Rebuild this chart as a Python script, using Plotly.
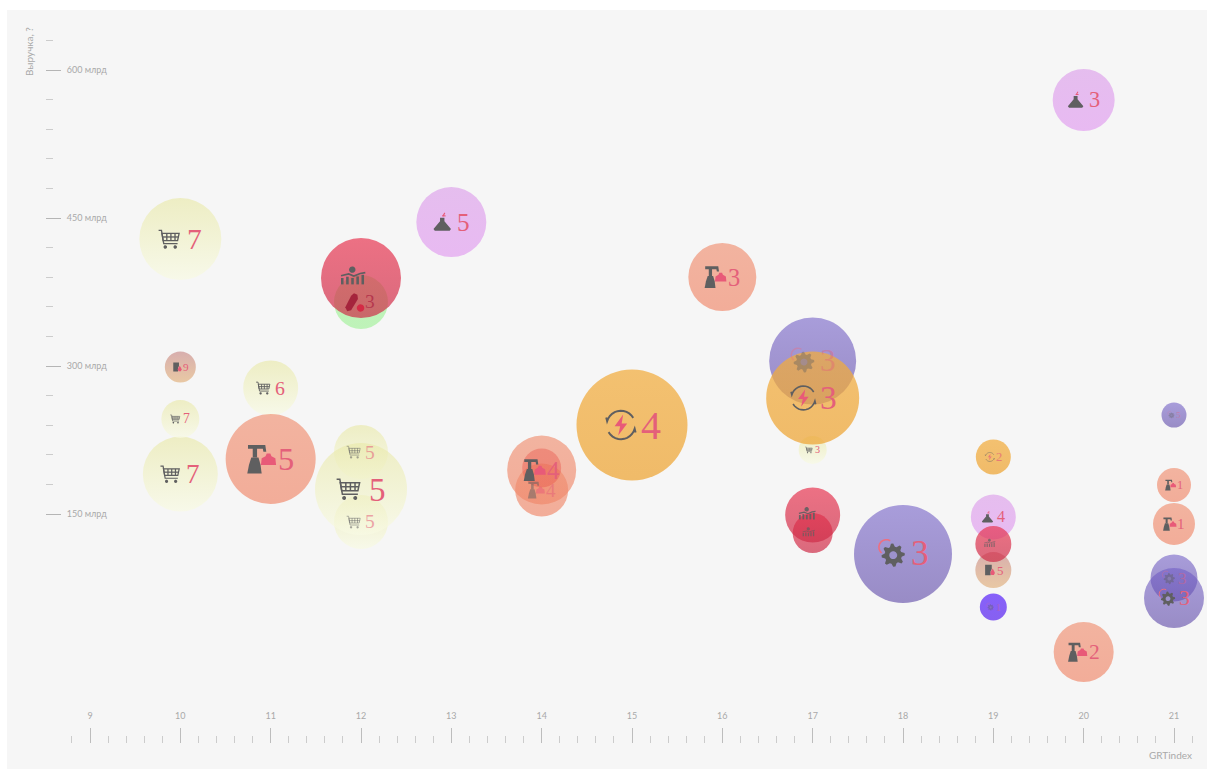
import numpy as np
import plotly.graph_objects as go

# ---------- data ----------
grt = [12, 12, 12, 10, 10, 10, 11, 17,
       11, 14, 14, 14, 16, 20, 21, 21,
       10, 19, 13, 20, 19,
       12, 12, 17, 17, 19,
       18, 17, 21, 21, 21, 19,
       17, 15, 19]
revenue = [212.8, 141.9, 175.3, 428.7, 190.5, 246.3, 277.7, 214.9,
           205.7, 174.3, 194.6, 196.6, 390.2, 10.1, 179.4, 139.9,
           299.0, 93.2, 445.9, 569.6, 147.0,
           364.9, 389.2, 130.7, 149.0, 119.6,
           109.5, 305.1, 250.3, 85.1, 64.9, 55.7,
           267.6, 240.2, 207.8]
bubble = [54, 54, 92, 82, 75, 38, 55, 28,
          90, 53, 69, 39, 68, 60, 34, 42,
          31, 36, 70, 62, 45,
          54, 80, 40, 55, 36,
          98, 87, 25, 47, 60, 27,
          93, 111, 35]
sector = ["retail", "retail", "retail", "retail", "retail", "retail", "retail", "retail",
          "industry", "industry", "industry", "tint", "industry", "industry", "industry", "industry",
          "oil", "oil", "chem", "chem", "chem",
          "pharma", "finance", "finance", "finance", "finance",
          "machine", "machine", "machine", "machine", "machine", "violet",
          "energy", "energy", "energy"]
count = [5, 5, 5, 7, 7, 7, 6, 3,
         5, 4, 4, None, 3, 2, 1, 1,
         9, 5, 5, 3, 4,
         3, None, None, None, None,
         3, 3, 5, 3, 3, 1,
         3, 4, 2]
icon_name = ["cart", "cart", "cart", "cart", "cart", "cart", "cart", "cart",
             "factory", "factory", "factory", None, "factory", "factory", "factory", "factory",
             "oil", "oil", "flask", "flask", "flask",
             "pill", "chart", "chart", "chart", "chart",
             "gear", "gear", "gear", "gear", "gear", "gear",
             "bolt", "bolt", "bolt"]
veil = [0.55, 0.55, 1, 1, 1, 1, 1, 1,
        1, 0.5, 1, 1, 1, 1, 1, 1,
        1, 1, 1, 1, 1,
        1, 1, 0.7, 0.9, 0.7,
        1, 0.4, 0.4, 0.45, 1, 0.4,
        1, 1, 0.7]

x_major = list(range(9, 22))
x_minor = [round(8.8 + 0.2 * i, 1) for i in range(63) if (i - 1) % 5 != 0]
y_major = [150, 300, 450, 600]
y_major_text = ["150 млрд", "300 млрд", "450 млрд", "600 млрд"]
y_minor = [180, 210, 240, 270, 330, 360, 390, 420, 480, 510, 540, 570, 630]

# ---------- styles ----------
FILL = {  # top colour, bottom colour
    "retail": ("rgba(233,233,170,0.66)", "rgba(248,250,228,0.7)"),
    "industry": ("rgba(240,145,115,0.66)", "rgba(240,135,105,0.66)"),
    "tint": ("rgba(232,80,70,0.4)", "rgba(232,80,70,0.4)"),
    "oil": ("rgba(205,150,150,0.75)", "rgba(225,175,120,0.65)"),
    "chem": ("rgba(222,165,235,0.7)", "rgba(226,160,240,0.7)"),
    "pharma": ("rgba(150,240,140,0.58)", "rgba(150,240,140,0.58)"),
    "finance": ("rgba(232,50,78,0.68)", "rgba(205,45,72,0.7)"),
    "machine": ("rgba(112,92,198,0.58)", "rgba(100,80,170,0.64)"),
    "violet": ("rgba(115,70,250,0.85)", "rgba(115,70,240,0.85)"),
    "energy": ("rgba(242,172,60,0.72)", "rgba(238,168,60,0.76)"),
}
ICON_DX = {"cart": -0.14, "factory": -0.10, "oil": -0.10, "flask": -0.13,
           "pill": -0.12, "chart": -0.09, "gear": -0.10, "bolt": -0.10}
ICON_SCALE = {"cart": 0.125, "factory": 0.16, "oil": 0.16, "flask": 0.125,
              "pill": 0.18, "chart": 0.16, "gear": 0.125, "bolt": 0.135}
NUM_COLOR = {"pharma": "#b5384e"}
NUM_DX = 0.175
INK = "#5f5f60"
PINK = "#e85a78"


def circ(cx, cy, r, a0=0, a1=360, n=24):
    t = np.radians(np.linspace(a0, a1, n))
    return list(zip(cx + r * np.cos(t), cy + r * np.sin(t)))


def gear_pts(cx, cy, r, teeth=8):
    pts = []
    for i in range(teeth * 4):
        a = 2 * np.pi * i / (teeth * 4)
        rr = r if i % 4 in (0, 1) else r * 0.74
        pts.append((cx + rr * np.cos(a), cy + rr * np.sin(a)))
    return pts


# each part: (points, colour, filled, closed)
ICONS = {
    "cart": [
        ([(-1, 0.85), (-0.72, 0.85), (-0.5, -0.45), (0.85, -0.45)], INK, False, False),
        ([(-0.68, 0.55), (1, 0.55), (0.85, -0.15), (-0.56, -0.15)], INK, False, True),
        ([(-0.2, 0.55), (-0.2, -0.15)], INK, False, False),
        ([(0.2, 0.55), (0.2, -0.15)], INK, False, False),
        ([(0.6, 0.55), (0.6, -0.15)], INK, False, False),
        ([(-0.62, 0.2), (0.93, 0.2)], INK, False, False),
        (circ(-0.35, -0.78, 0.17), INK, True, True),
        (circ(0.62, -0.78, 0.17), INK, True, True),
    ],
    "factory": [
        ([(-1, -1), (0.0, -1), (-0.08, -0.4), (-0.22, 0.1), (-0.72, 0.1), (-0.88, -0.4)], INK, True, True),
        ([(-0.62, 0.1), (-0.62, 0.72), (-0.95, 0.72), (-0.95, 0.98), (0.25, 0.98), (0.32, 0.5),
          (0.12, 0.5), (0.08, 0.72), (-0.32, 0.72), (-0.32, 0.1)], INK, True, True),
        ([(-0.05, -0.42), (1, -0.42), (0.95, 0.05), (0.68, 0.2), (0.6, 0.38), (0.35, 0.38),
          (0.27, 0.2), (0.0, 0.05)], PINK, True, True),
    ],
    "oil": [
        ([(-0.8, -0.9), (0.15, -0.9), (0.15, -0.2), (0.35, 0.2), (0.35, 0.9), (-0.8, 0.9)], INK, True, True),
        ([(0.5, 0.25), (0.75, -0.15), (0.9, -0.5), (0.72, -0.85), (0.28, -0.85), (0.1, -0.5), (0.25, -0.15)],
         PINK, True, True),
    ],
    "flask": [
        ([(-0.25, 0.5), (0.25, 0.5), (0.25, 0.1), (1.0, -0.8), (0.85, -1), (-0.85, -1), (-1.0, -0.8), (-0.25, 0.1)],
         INK, True, True),
        ([(0.05, 0.65), (0.3, 1.05)], PINK, False, False),
        ([(0.02, 0.72), (0.38, 0.7)], PINK, False, False),
    ],
    "pill": [
        ([(-0.95, -0.55), (-0.75, -0.95), (-0.35, -0.85), (0.35, 0.3), (0.3, 0.75), (-0.05, 0.9), (-0.35, 0.65)],
         "#a5243c", True, True),
        (circ(0.62, -0.62, 0.38), "#d42a45", True, True),
    ],
    "chart": [
        ([(-1, -0.5), (-0.8, -0.5), (-0.8, 0.0), (-1, 0.0)], INK, True, True),
        ([(-0.6, -0.5), (-0.4, -0.5), (-0.4, 0.1), (-0.6, 0.1)], INK, True, True),
        ([(-0.2, -0.5), (0, -0.5), (0, 0.0), (-0.2, 0.0)], INK, True, True),
        ([(0.2, -0.5), (0.4, -0.5), (0.4, 0.12), (0.2, 0.12)], INK, True, True),
        ([(0.6, -0.5), (0.8, -0.5), (0.8, 0.25), (0.6, 0.25)], INK, True, True),
        ([(-1, 0.18), (-0.4, 0.32), (0, 0.15), (0.5, 0.35), (0.9, 0.42)], INK, False, False),
        (circ(-0.12, 0.65, 0.25), INK, True, True),
    ],
    "gear": [
        (gear_pts(0, -0.1, 0.95), INK, True, True),
        (circ(0, -0.1, 0.32), "#9d92cc", True, True),
        (circ(-0.55, 0.55, 0.62, 60, 230, 10), "#ee6f80", False, False),
    ],
    "bolt": [
        (circ(0, 0, 0.95, 30, 165, 12) + [(-0.98, 0.5)], INK, False, False),
        (circ(0, 0, 0.95, 210, 345, 12) + [(0.98, -0.5)], INK, False, False),
        ([(0.15, 0.7), (-0.42, -0.08), (-0.05, -0.08), (-0.18, -0.7), (0.42, 0.1), (0.05, 0.1)], PINK, True, True),
    ],
}


def to_path(pts, s, dx, closed):
    segs = [f"{'M' if i == 0 else 'L'}{px * s + dx:.2f},{py * s:.2f}" for i, (px, py) in enumerate(pts)]
    return " ".join(segs) + (" Z" if closed else "")


fig = go.Figure()

fig.add_trace(go.Scatter(
    x=grt, y=revenue, mode="markers", hoverinfo="skip",
    marker=dict(
        size=bubble, sizemode="diameter", opacity=1,
        color=[FILL[s][0] for s in sector],
        gradient=dict(type="vertical", color=[FILL[s][1] for s in sector]),
        line=dict(width=0),
    ),
))

shapes = []
annotations = []
for gx, rv, d, name, n, a, sec in zip(grt, revenue, bubble, icon_name, count, veil, sector):
    if name:
        s = ICON_SCALE[name] * d
        dx = ICON_DX[name] * d
        for pts, col, filled, closed in ICONS[name]:
            shapes.append(dict(
                type="path", xsizemode="pixel", ysizemode="pixel",
                xanchor=gx, yanchor=rv, xref="x", yref="y",
                path=to_path(pts, s, dx, closed), opacity=a, layer="above",
                fillcolor=col if filled else "rgba(0,0,0,0)",
                line=dict(color=col, width=0 if filled else max(0.5, s * 0.13)),
            ))
    if n is not None:
        annotations.append(dict(
            x=gx, y=rv, xref="x", yref="y", text=str(n), showarrow=False,
            xshift=NUM_DX * d, yshift=0, opacity=a,
            font=dict(family="Liberation Serif", size=max(8, 0.36 * d),
                      color=NUM_COLOR.get(sec, "#e4607a")),
        ))

annotations += [
    dict(xref="paper", yref="paper", x=(29 - 7) / 1200, y=(769 - 52) / 759, text="Выручка, ?",
         xanchor="center", yanchor="middle",
         textangle=-90, showarrow=False, font=dict(family="Lato", size=10, color="#a9a9a9")),
    dict(xref="paper", yref="paper", x=(1194 - 7) / 1200, y=(769 - 755) / 759, text="GRTindex",
         xanchor="right", yanchor="middle", showarrow=False,
         font=dict(family="Lato", size=10, color="#a9a9a9")),
]

fig.update_layout(
    width=1208, height=771, showlegend=False,
    margin=dict(l=7, r=1, t=10, b=2, pad=0),
    paper_bgcolor="white", plot_bgcolor="#f6f6f6",
    shapes=shapes, annotations=annotations,
    xaxis=dict(
        range=[9 - 83 / 90.33, 21 + 33 / 90.33], side="top", anchor="free",
        position=(769 - 743) / 759, showgrid=False, zeroline=False, showline=False,
        tickmode="array", tickvals=x_major, ticktext=[str(v) for v in x_major],
        ticks="outside", ticklen=15, tickwidth=1, tickcolor="#bdbdbd",
        ticklabelstandoff=5, tickfont=dict(family="Lato", size=9, color="#a9a9a9"),
        minor=dict(tickmode="array", tickvals=x_minor, ticks="outside", ticklen=7,
                   tickwidth=1, tickcolor="#cccccc", showgrid=False),
    ),
    yaxis=dict(
        range=[600 - 699 / 0.98667, 600 + 60 / 0.98667], side="right", anchor="free",
        position=(45 - 7) / 1200, showgrid=False, zeroline=False, showline=False,
        tickmode="array", tickvals=y_major, ticktext=y_major_text,
        ticks="outside", ticklen=15, tickwidth=1, tickcolor="#b5b5b5",
        ticklabelstandoff=4, tickfont=dict(family="Lato", size=9, color="#a9a9a9"),
        minor=dict(tickmode="array", tickvals=y_minor, ticks="outside", ticklen=7,
                   tickwidth=1, tickcolor="#cccccc", showgrid=False),
    ),
)

fig.write_html("out.html", config=dict(displayModeBar=False),
               post_script="document.body.style.margin='0';")
